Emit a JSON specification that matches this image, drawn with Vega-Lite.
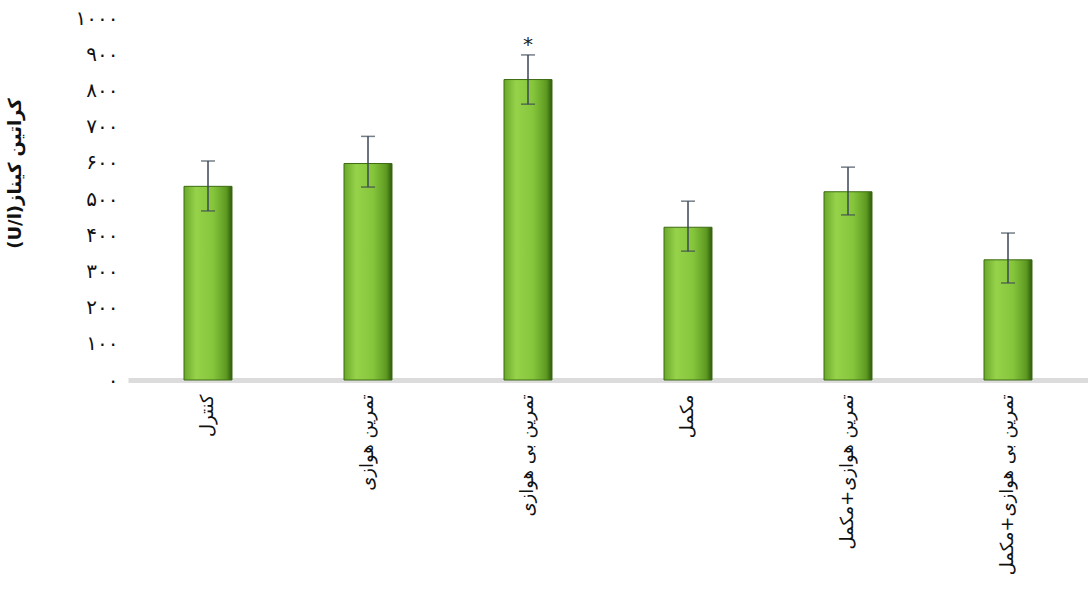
{
  "$schema": "https://vega.github.io/schema/vega-lite/v6.json",
  "autosize": "none",
  "width": 960,
  "height": 362,
  "padding": {"left": 128, "top": 18, "right": 0, "bottom": 209},
  "background": "white",
  "config": {
    "view": {"stroke": null},
    "font": "DejaVu Sans",
    "axisY": {
      "labelOverlap": false,
      "values": [0, 100, 200, 300, 400, 500, 600, 700, 800, 900, 1000],
      "format": "d",
      "grid": false,
      "domain": false,
      "ticks": false,
      "labelFontSize": 20,
      "labelColor": "#111111",
      "labelPadding": 10,
      "titleFontSize": 18,
      "titleFontWeight": "bold",
      "titleColor": "#111111",
      "titleX": -104,
      "titleY": 155
    },
    "locale": {
      "number": {
        "decimal": ".",
        "thousands": ",",
        "grouping": [3],
        "currency": ["", ""],
        "numerals": ["۰", "۱", "۲", "۳", "۴", "۵", "۶", "۷", "۸", "۹"]
      }
    }
  },
  "data": {
    "values": [
      {"group": "کنترل", "mean": 535, "lower": 467, "upper": 605, "sig": ""},
      {"group": "تمرین هوازی", "mean": 598, "lower": 533, "upper": 673, "sig": ""},
      {"group": "تمرین بی هوازی", "mean": 830, "lower": 762, "upper": 898, "sig": "*"},
      {"group": "مکمل", "mean": 422, "lower": 356, "upper": 494, "sig": ""},
      {"group": "تمرین هوازی+مکمل", "mean": 520, "lower": 456, "upper": 588, "sig": ""},
      {"group": "تمرین بی هوازی+مکمل", "mean": 332, "lower": 268, "upper": 406, "sig": ""}
    ]
  },
  "encoding": {
    "x": {
      "field": "group",
      "type": "nominal",
      "sort": null,
      "title": null,
      "axis": {
        "labelAngle": -90,
        "labelAlign": "right",
        "labelBaseline": "middle",
        "labelFontSize": 18,
        "labelColor": "#111111",
        "labelPadding": 14,
        "ticks": false,
        "domainColor": "#dcdcdc",
        "domainWidth": 5,
        "labelLimit": 250
      }
    }
  },
  "layer": [
    {
      "mark": {
        "type": "bar",
        "size": 48,
        "stroke": "#3d6b12",
        "strokeWidth": 1,
        "fill": {
          "gradient": "linear",
          "x1": 0, "x2": 1, "y1": 0, "y2": 0,
          "stops": [
            {"offset": 0, "color": "#6aa82a"},
            {"offset": 0.25, "color": "#96d24a"},
            {"offset": 0.6, "color": "#86c63c"},
            {"offset": 0.88, "color": "#5e9a22"},
            {"offset": 1, "color": "#2f5a0c"}
          ]
        }
      },
      "encoding": {
        "y": {
          "field": "mean",
          "type": "quantitative",
          "scale": {"domain": [0, 1000]},
          "title": "(U/l)کراتین کیناز",
          "axis": {"labelOverlap": false, "values": [0, 100, 200, 300, 400, 500, 600, 700, 800, 900, 1000]}
        }
      }
    },
    {
      "mark": {"type": "rule", "color": "#3a4656", "strokeWidth": 1.5},
      "encoding": {
        "y": {"field": "lower", "type": "quantitative", "title": "(U/l)کراتین کیناز", "axis": {"labelOverlap": false, "values": [0, 100, 200, 300, 400, 500, 600, 700, 800, 900, 1000]}},
        "y2": {"field": "upper"}
      }
    },
    {
      "mark": {"type": "tick", "color": "#3a4656", "size": 14, "thickness": 1.5, "orient": "horizontal"},
      "encoding": {"y": {"field": "upper", "type": "quantitative", "title": "(U/l)کراتین کیناز", "axis": {"labelOverlap": false, "values": [0, 100, 200, 300, 400, 500, 600, 700, 800, 900, 1000]}}}
    },
    {
      "mark": {"type": "tick", "color": "#3a4656", "size": 14, "thickness": 1.5, "orient": "horizontal"},
      "encoding": {"y": {"field": "lower", "type": "quantitative", "title": "(U/l)کراتین کیناز", "axis": {"labelOverlap": false, "values": [0, 100, 200, 300, 400, 500, 600, 700, 800, 900, 1000]}}}
    },
    {
      "mark": {"type": "text", "fontSize": 20, "dy": -10, "color": "#222222", "baseline": "middle"},
      "encoding": {
        "y": {"field": "upper", "type": "quantitative", "title": "(U/l)کراتین کیناز", "axis": {"labelOverlap": false, "values": [0, 100, 200, 300, 400, 500, 600, 700, 800, 900, 1000]}},
        "text": {"field": "sig"}
      }
    }
  ]
}
